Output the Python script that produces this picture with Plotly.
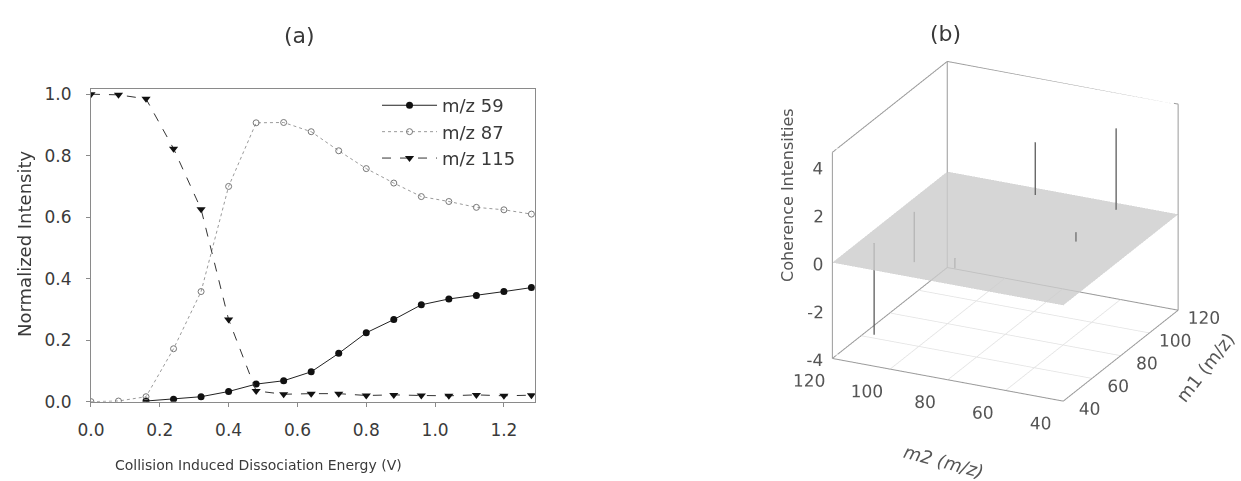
import plotly.graph_objects as go

# ---- panel (a): normalized intensity vs CID energy ----
energy = [0.00, 0.08, 0.16, 0.24, 0.32, 0.40, 0.48, 0.56, 0.64, 0.72, 0.80,
          0.88, 0.96, 1.04, 1.12, 1.20, 1.28]
mz59 = [None, None, 0.002, 0.008, 0.016, 0.033, 0.057, 0.068, 0.097, 0.157,
        0.224, 0.267, 0.315, 0.334, 0.345, 0.358, 0.371]
mz87 = [0.000, 0.002, 0.016, 0.172, 0.358, 0.700, 0.907, 0.908, 0.878, 0.816,
        0.758, 0.711, 0.667, 0.651, 0.632, 0.624, 0.610]
mz115 = [1.000, 0.998, 0.985, 0.823, 0.626, 0.267, 0.035, 0.024, 0.026, 0.026,
         0.020, 0.022, 0.020, 0.019, 0.022, 0.019, 0.021]
x_ticks = [0.0, 0.2, 0.4, 0.6, 0.8, 1.0, 1.2]
y_ticks = [0.0, 0.2, 0.4, 0.6, 0.8, 1.0]

# ---- panel (b): coherence stems on the (m2, m1) plane ----
stem_m2 = [115, 115, 87, 87, 59, 59]
stem_m1 = [59, 87, 59, 115, 87, 115]
stem_val = [-3.8, -2.1, -0.4, 2.2, 0.4, 3.4]
mass_ticks = [40, 60, 80, 100, 120]
z_ticks = [-4, -2, 0, 2, 4]

FONT = "DejaVu Sans, Verdana, sans-serif"
TXT = "#3a3a3a"
TXT3 = "#555555"
AX = "#8a8a8a"

fig = go.Figure()

fig.add_trace(go.Scatter(
    x=energy, y=mz59, name="m/z 59", mode="lines+markers",
    line=dict(color="#222222", width=1),
    marker=dict(symbol="circle", size=7, color="#111111"),
    xaxis="x", yaxis="y"))
fig.add_trace(go.Scatter(
    x=energy, y=mz87, name="m/z 87", mode="lines+markers",
    line=dict(color="#9a9a9a", width=1, dash="dot"),
    marker=dict(symbol="circle-open", size=6, color="#777777", line=dict(width=1)),
    xaxis="x", yaxis="y"))
fig.add_trace(go.Scatter(
    x=energy, y=mz115, name="m/z 115", mode="lines+markers",
    line=dict(color="#333333", width=1, dash="dash"),
    marker=dict(symbol="triangle-down", size=8, color="#111111"),
    xaxis="x", yaxis="y"))

# ---- 3D panel ----
lo, hi = 40, 120          # mass window of the box
zlo, zhi = -4, 4.6        # floor and lid of the box
N = None

# coherence plane at zero
fig.add_trace(go.Surface(
    x=[lo, hi], y=[lo, hi], z=[[0, 0], [0, 0]],
    colorscale=[[0, "rgb(204,204,204)"], [1, "rgb(204,204,204)"]],
    showscale=False, opacity=0.8, hoverinfo="skip",
    lighting=dict(ambient=1, diffuse=0, specular=0, fresnel=0),
    scene="scene", showlegend=False))

# floor grid
gx, gy, gz = [], [], []
for v in [60, 80, 100]:
    gx += [v, v, N]; gy += [lo, hi, N]; gz += [zlo, zlo, N]
    gx += [lo, hi, N]; gy += [v, v, N]; gz += [zlo, zlo, N]
fig.add_trace(go.Scatter3d(x=gx, y=gy, z=gz, mode="lines",
                           line=dict(color="#e2e2e2", width=1.5),
                           hoverinfo="skip", showlegend=False, scene="scene"))

# box frame: floor outline, three back/left uprights, two top edges
bx = [hi, lo, lo, hi, hi, N, hi, hi, N, hi, hi, N, lo, lo, N, hi, hi, lo]
by = [lo, lo, hi, hi, lo, N, lo, lo, N, hi, hi, N, hi, hi, N, lo, hi, hi]
bz = [zlo, zlo, zlo, zlo, zlo, N, zlo, zhi, N, zlo, zhi, N, zlo, zhi, N, zhi, zhi, zhi]
fig.add_trace(go.Scatter3d(x=bx, y=by, z=bz, mode="lines",
                           line=dict(color="#9a9a9a", width=2),
                           hoverinfo="skip", showlegend=False, scene="scene"))

# stems
sx, sy, sz = [], [], []
for a, b, v in zip(stem_m2, stem_m1, stem_val):
    sx += [a, a, N]; sy += [b, b, N]; sz += [0, v, N]
fig.add_trace(go.Scatter3d(x=sx, y=sy, z=sz, mode="lines",
                           line=dict(color="#555555", width=2.5),
                           hoverinfo="skip", showlegend=False, scene="scene"))

# tick labels, set just outside the box edges
lab_font = dict(family=FONT, size=17, color=TXT3)
fig.add_trace(go.Scatter3d(   # intensity, front-left upright
    x=[117.6] * len(z_ticks), y=[lo] * len(z_ticks), z=z_ticks,
    mode="text", text=[str(t) for t in z_ticks], textposition="middle left",
    textfont=lab_font, hoverinfo="skip", showlegend=False, scene="scene"))
fig.add_trace(go.Scatter3d(   # m2, along the front floor edge
    x=mass_ticks, y=[24] * len(mass_ticks), z=[-4.15] * len(mass_ticks),
    mode="text", text=[str(t) for t in mass_ticks], textposition="middle center",
    textfont=lab_font, hoverinfo="skip", showlegend=False, scene="scene"))
fig.add_trace(go.Scatter3d(   # m1, along the right floor edge
    x=[31] * len(mass_ticks), y=mass_ticks, z=[-4.1] * len(mass_ticks),
    mode="text", text=[str(t) for t in mass_ticks], textposition="middle center",
    textfont=lab_font, hoverinfo="skip", showlegend=False, scene="scene"))

axis3d = dict(showgrid=False, showbackground=False, zeroline=False,
              showline=False, showspikes=False, ticks="",
              showticklabels=False, title=dict(text=""))

fig.update_layout(
    width=1241, height=481,
    margin=dict(l=0, r=0, t=0, b=0),
    paper_bgcolor="white", plot_bgcolor="white",
    font=dict(family=FONT, color=TXT),
    xaxis=dict(domain=[0.0733, 0.431], range=[0, 1.29], automargin=False,
               tickvals=x_ticks, ticktext=[f"{t:.1f}" for t in x_ticks],
               ticks="outside", ticklen=4, tickcolor=AX, ticklabelstandoff=9,
               showline=True, linecolor=AX, mirror=True, showgrid=False,
               zeroline=False, tickfont=dict(size=17, color=TXT)),
    yaxis=dict(domain=[0.165, 0.815], range=[0, 1.017], automargin=False,
               tickvals=y_ticks, ticktext=[f"{t:.1f}" for t in y_ticks],
               ticks="outside", ticklen=4, tickcolor=AX, ticklabelstandoff=11,
               showline=True, linecolor=AX, mirror=True, showgrid=False,
               zeroline=False, tickfont=dict(size=17, color=TXT)),
    legend=dict(x=0.3038, y=0.819, xanchor="left", yanchor="top",
                bgcolor="rgba(0,0,0,0)", font=dict(size=18, color=TXT),
                itemwidth=55, tracegroupgap=0),
    scene=dict(
        domain=dict(x=[0.6243, 0.999], y=[0.0086, 0.969]),
        xaxis=dict(axis3d, range=[hi, 30], autorange=False),
        yaxis=dict(axis3d, range=[23, hi], autorange=False),
        zaxis=dict(axis3d, range=[-4.2, zhi], autorange=False),
        aspectmode="manual", aspectratio=dict(x=1.249, y=1.386, z=0.988),
        camera=dict(eye=dict(x=0.804, y=-1.664, z=0.765),
                    center=dict(x=0, y=0, z=0), up=dict(x=0, y=0, z=1),
                    projection=dict(type="orthographic")),
    ),
    annotations=[
        dict(text="(a)", x=0.2417, y=0.927, xref="paper", yref="paper",
             xanchor="center", yanchor="middle",
             showarrow=False, font=dict(size=22, color=TXT)),
        dict(text="(b)", x=0.7615, y=0.93, xref="paper", yref="paper",
             xanchor="center", yanchor="middle",
             showarrow=False, font=dict(size=22, color=TXT)),
        dict(text="Collision Induced Dissociation Energy (V)",
             x=258 / 1241, y=1 - 465 / 481, xref="paper", yref="paper",
             xanchor="center", yanchor="middle", showarrow=False,
             font=dict(size=14, color=TXT)),
        dict(text="Normalized Intensity", textangle=-90,
             x=24 / 1241, y=1 - 244 / 481, xref="paper", yref="paper",
             xanchor="center", yanchor="middle", showarrow=False,
             font=dict(size=18, color=TXT)),
        dict(text="Coherence Intensities", textangle=-90,
             x=787 / 1241, y=1 - 195 / 481, xref="paper", yref="paper",
             xanchor="center", yanchor="middle", showarrow=False,
             font=dict(size=16, color=TXT3)),
        dict(text="m2 (m/z)", textangle=15,
             x=944 / 1241, y=1 - 461 / 481, xref="paper", yref="paper",
             xanchor="center", yanchor="middle", showarrow=False,
             font=dict(size=18, color=TXT3, style="italic")),
        dict(text="m1 (m/z)", textangle=-52,
             x=1205 / 1241, y=1 - 367 / 481, xref="paper", yref="paper",
             xanchor="center", yanchor="middle", showarrow=False,
             font=dict(size=18, color=TXT3)),
    ],
)

fig.write_html("out.html", post_script="document.body.style.margin='0';")
